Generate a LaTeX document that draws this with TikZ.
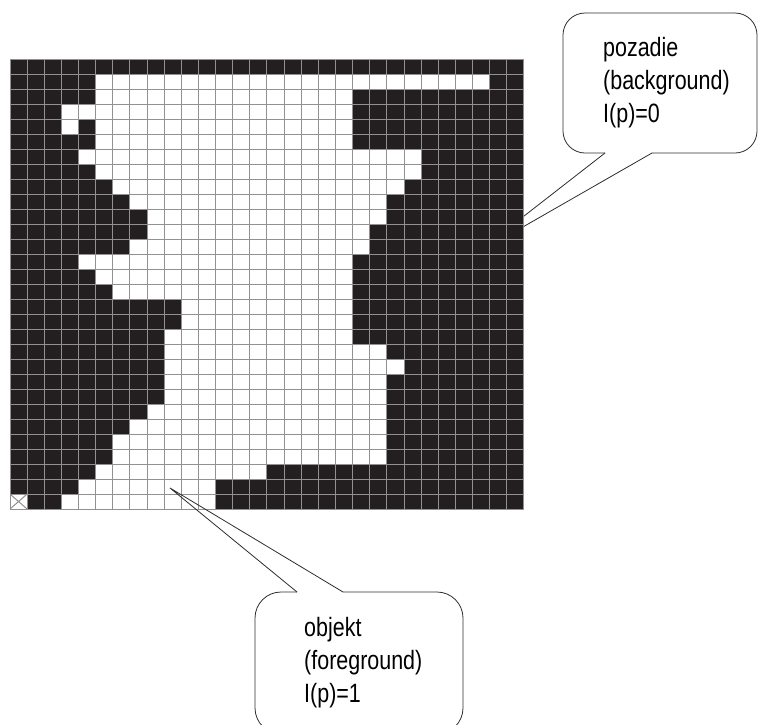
\documentclass[tikz,border=0pt]{standalone}
\usepackage{fontspec}
\newfontfamily\calloutfont{Liberation Sans}[FakeStretch=0.81]
\usepackage{tikz}

\definecolor{pixblack}{RGB}{35,31,32}
\definecolor{gridgray}{RGB}{145,145,145}
\definecolor{callgray}{RGB}{45,45,45}

\begin{document}
\begin{tikzpicture}[x=1pt, y=-1pt,
    gridline/.style={gridgray, line width=1pt},
    callout/.style={callgray, line width=0.8pt},
    callouttext/.style={font={\calloutfont\fontsize{26.5}{33}\selectfont}, align=left, anchor=north west, inner sep=0pt}]
    \useasboundingbox (0,0) rectangle (760,724);

    % background callout (tip lies under the image)
    \coordinate (bgtip) at (474,255);
    \draw[callout] (605,153) -- (bgtip) -- (652,153);
    \draw[callout, rounded corners=22pt] (652,153) -- (757,153) -- (757,13) -- (563,13) -- (563,153) -- (605,153);
    \node[callouttext] (bgtext) at (603,37) {pozadie\\(background)\\I(p)=0};

    % binary image, 30 x 30 pixels
    \begin{scope}[shift={(10,59)}, x=17.133pt, y=-15pt]
        \fill[pixblack] (0,0) rectangle (30,30);
        % white pixels: row/first/last column
        \foreach \r/\a/\b in {1/5/27, 2/5/19, 3/3/19, 4/3/3, 4/5/19, 5/5/19, 6/4/23, 7/5/23,
                              8/6/22, 9/7/21, 10/8/21, 11/8/20, 12/7/20, 13/4/19, 14/5/19,
                              15/6/19, 16/10/19, 17/10/19, 18/9/19, 19/9/21, 20/9/22, 21/9/21,
                              22/9/21, 23/8/21, 24/7/21, 25/6/21, 26/6/21, 27/5/14, 28/4/11,
                              29/0/0, 29/3/11}
            \fill[white] (\a,\r) rectangle (\b+1,\r+1);
        \foreach \i in {0,...,30} {
            \draw[gridline] (\i,0) -- (\i,30);
            \draw[gridline] (0,\i) -- (30,\i);
        }
        % crossed pixel in the corner
        \draw[gridline] (0,29) -- (1,30) (0,30) -- (1,29);
    \end{scope}

    % foreground callout (runs off the lower edge)
    \coordinate (fgtip) at (170,488);
    \draw[callout] (297,592) -- (fgtip) -- (343,592);
    \draw[callout, rounded corners=26pt] (343,592) -- (463,592) -- (463,734) -- (255,734) -- (255,592) -- (297,592);
    \node[callouttext] (fgtext) at (304,617) {objekt\\(foreground)\\I(p)=1};
\end{tikzpicture}
\end{document}
